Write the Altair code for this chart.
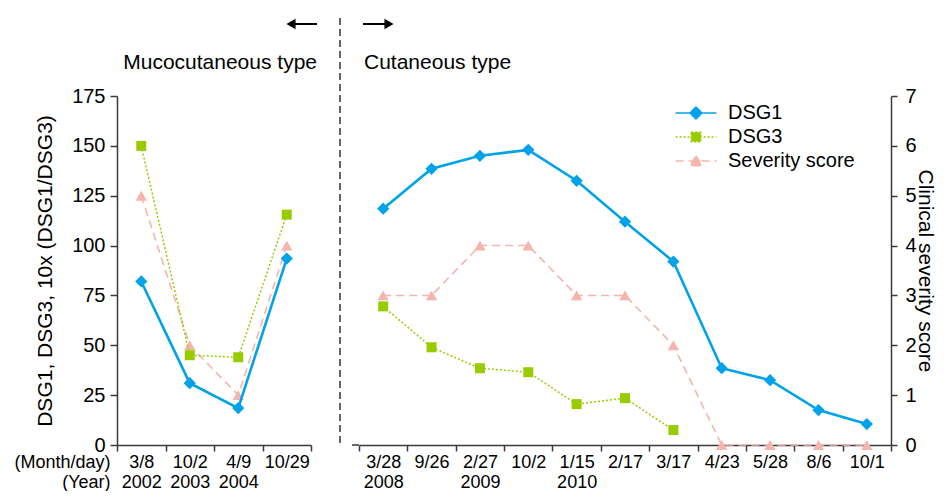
import altair as alt
import pandas as pd

FONT = "Liberation Sans"

# ---- data ----
series_names = ["DSG1", "DSG3", "Severity score"]
series_colors = ["#00A2E8", "#99CC00", "#F5B5AE"]
series_dash = [[1, 0], [2, 2], [8, 5]]
legend_paths = [
    "M-3.4,0L3.4,0M0,-1L1,0L0,1L-1,0Z",
    "M-3.4,0L3.4,0M-0.8,-0.8L0.8,-0.8L0.8,0.8L-0.8,0.8Z",
    "M-3.4,0L3.4,0M0,-0.85L1,0.8L-1,0.8Z",
]

panel_titles = ["Mucocutaneous type", "Cutaneous type"]

left_dates = ["3/8|2002", "10/2|2003", "4/9|2004", "10/29"]
left_dsg1 = [82, 31, 18.5, 93.5]
left_dsg3 = [150, 45, 44, 115.5]
left_sev = [5, 2, 1, 4]

right_dates = ["3/28|2008", "9/26", "2/27|2009", "10/2", "1/15|2010", "2/17",
               "3/17", "4/23", "5/28", "8/6", "10/1"]
right_dsg1 = [118.5, 138.5, 145, 148, 132.5, 112, 92, 38.5, 32.5, 17.5, 10.5]
right_dsg3 = [69.5, 49, 38.5, 36.5, 20.5, 23.5, 7.5]
right_sev = [3, 3, 4, 4, 3, 3, 2, 0, 0, 0, 0]

dsg_ticks = [0, 25, 50, 75, 100, 125, 150, 175]
sev_ticks = [0, 1, 2, 3, 4, 5, 6, 7]

H = 349


def x_enc(scale, axis):
    return alt.X("date:N", sort=None, scale=scale, axis=axis)


def series_layers(dates, dsg1, dsg3, sev, xscale, xaxis, dsg_axis, sev_axis):
    df1 = pd.DataFrame({"date": dates, "v": dsg1})
    df3 = pd.DataFrame({"date": dates[:len(dsg3)], "v": dsg3})
    dfs = pd.DataFrame({"date": dates, "v": sev})
    ydsg = alt.Y("v:Q", scale=alt.Scale(domain=[0, 175], nice=False, zero=True), axis=dsg_axis)
    ysev = alt.Y("v:Q", scale=alt.Scale(domain=[0, 7], nice=False, zero=True), axis=sev_axis)
    x = x_enc(xscale, xaxis)

    sev_line = alt.Chart(dfs).mark_line(color=series_colors[2], strokeWidth=1.6,
                                        strokeDash=series_dash[2]).encode(x=x, y=ysev)
    sev_pts = alt.Chart(dfs).mark_point(shape="triangle-up", filled=True, size=130, opacity=1,
                                        color=series_colors[2]).encode(x=x, y=ysev)
    d3_line = alt.Chart(df3).mark_line(color=series_colors[1], strokeWidth=1.5,
                                       strokeDash=series_dash[1]).encode(x=x, y=ydsg)
    d3_pts = alt.Chart(df3).mark_point(shape="square", filled=True, size=100, opacity=1,
                                       color=series_colors[1]).encode(x=x, y=ydsg)
    d1_line = alt.Chart(df1).mark_line(color=series_colors[0], strokeWidth=2.6).encode(x=x, y=ydsg)
    d1_pts = alt.Chart(df1).mark_point(shape="diamond", filled=True, size=150, opacity=1,
                                       color=series_colors[0]).encode(x=x, y=ydsg)
    sev_layer = alt.layer(sev_line, sev_pts)
    dsg_layer = alt.layer(d3_line, d3_pts, d1_line, d1_pts)
    return sev_layer, dsg_layer


one = pd.DataFrame({"k": [0]})

xaxis_common = dict(labelExpr="isValid(datum.value) ? split(datum.value, '|') : ''",
                    labelAngle=0, tickBand="extent",
                    labelFontSize=18, labelLineHeight=20, labelPadding=2, tickSize=6,
                    labelOverlap=False, labelFont=FONT, grid=False)

# ---- left panel ----
left_xscale = alt.Scale(type="band", domain=left_dates, paddingInner=0, paddingOuter=0)
left_xaxis = alt.Axis(title=["(Month/day)", "(Year)"], titleX=-7, titleY=8, titleAlign="right",
                      titleBaseline="top", titleFontSize=18, titleLineHeight=20,
                      titleFontWeight="normal", titleFont=FONT, **xaxis_common)
left_dsg_axis = alt.Axis(orient="left", values=dsg_ticks, tickSize=7, labelPadding=5,
                         labelFontSize=20, title="DSG1, DSG3, 10x (DSG1/DSG3)", titleFontSize=21,
                         titleFontWeight="normal", titleX=-72, titleY=H / 2, titleAngle=270,
                         titleAlign="center", titleBaseline="middle", grid=False)
l_sev, l_dsg = series_layers(left_dates, left_dsg1, left_dsg3, left_sev,
                             left_xscale, left_xaxis, left_dsg_axis, None)

left_title = alt.Chart(pd.DataFrame({"t": [panel_titles[0]]})).mark_text(
    align="right", baseline="alphabetic", fontSize=21, font=FONT, color="black"
).encode(text="t:N", x=alt.value(200), y=alt.value(-27))
left_arrow_shaft = alt.Chart(one).mark_rule(color="black", strokeWidth=2).encode(
    x=alt.value(174), x2=alt.value(200), y=alt.value(-72))
left_arrow_head = alt.Chart(one).mark_point(shape="triangle-left", filled=True, size=110,
                                            opacity=1, color="black").encode(
    x=alt.value(174), y=alt.value(-72))

left = alt.layer(l_sev, l_dsg, left_title, left_arrow_shaft, left_arrow_head).resolve_scale(
    y="independent").properties(width=194, height=H)

# ---- right panel ----
right_xscale = alt.Scale(type="band", domain=right_dates, paddingInner=0, paddingOuter=0)
right_xaxis = alt.Axis(title=None, **xaxis_common)
right_sev_axis = alt.Axis(orient="right", values=sev_ticks, tickSize=6, labelPadding=8,
                          labelFontSize=20, title="Clinical severity score", titleFontSize=21,
                          titleFontWeight="normal", titleX=33, titleY=H / 2, titleAngle=90,
                          titleAlign="center", titleBaseline="middle", grid=False)
r_sev, r_dsg = series_layers(right_dates, right_dsg1, right_dsg3, right_sev,
                             right_xscale, right_xaxis, None, right_sev_axis)

divider = alt.Chart(one).mark_rule(color="black", strokeWidth=1.2, strokeDash=[7, 4]).encode(
    x=alt.value(-19), y=alt.value(-78), y2=alt.value(H))
axis_stub = alt.Chart(one).mark_rule(color="#3a3a3a", strokeWidth=1.5).encode(
    x=alt.value(-7), x2=alt.value(0), y=alt.value(H))
right_title = alt.Chart(pd.DataFrame({"t": [panel_titles[1]]})).mark_text(
    align="left", baseline="alphabetic", fontSize=21, font=FONT, color="black"
).encode(text="t:N", x=alt.value(5), y=alt.value(-27))
right_arrow_shaft = alt.Chart(one).mark_rule(color="black", strokeWidth=2).encode(
    x=alt.value(4), x2=alt.value(30), y=alt.value(-72))
right_arrow_head = alt.Chart(one).mark_point(shape="triangle-right", filled=True, size=110,
                                             opacity=1, color="black").encode(
    x=alt.value(30), y=alt.value(-72))

leg = alt.Legend(title=None, orient="none", legendX=327, legendY=7, symbolSize=144,
                 symbolStrokeWidth=1.5, labelFontSize=20, labelFont=FONT, labelOffset=22,
                 rowPadding=4, padding=0, labelColor="black")
legend_df = pd.DataFrame({"series": series_names})
legend_layer = alt.Chart(legend_df).transform_filter("false").mark_point(
    filled=True, opacity=1).encode(
    fill=alt.Fill("series:N", scale=alt.Scale(domain=series_names, range=series_colors), legend=leg),
    stroke=alt.Stroke("series:N", scale=alt.Scale(domain=series_names, range=series_colors), legend=leg),
    shape=alt.Shape("series:N", scale=alt.Scale(domain=series_names, range=legend_paths), legend=leg),
    strokeDash=alt.StrokeDash("series:N", scale=alt.Scale(domain=series_names, range=series_dash),
                              legend=leg),
)

right = alt.layer(divider, axis_stub, r_sev, r_dsg, right_title, right_arrow_shaft,
                  right_arrow_head, legend_layer).resolve_scale(y="independent").properties(
    width=532, height=H)

chart = alt.hconcat(left, right, spacing=48, bounds="flush").resolve_scale(
    fill="independent", stroke="independent", shape="independent", strokeDash="independent"
).resolve_legend(
    fill="independent", stroke="independent", shape="independent", strokeDash="independent"
).properties(
    padding={"top": 9, "left": 5, "right": 2, "bottom": 0}
).configure_view(stroke=None).configure_axis(
    labelFont=FONT, titleFont=FONT, labelColor="black", titleColor="black",
    domainColor="#3a3a3a", tickColor="#3a3a3a", domainWidth=1.5, tickWidth=1.5, grid=False
).configure_text(font=FONT)

chart.save("out.html", embed_options={"renderer": "svg", "actions": False})
